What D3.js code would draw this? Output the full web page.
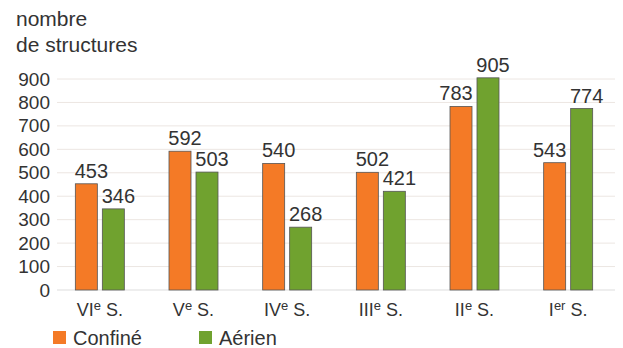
<!DOCTYPE html>
<html>
<head>
<meta charset="utf-8">
<script src="https://cdn.jsdelivr.net/npm/d3@7"></script>
<style>
  body { margin: 0; background: #fff; }
  text { font-family: 'Liberation Sans', Arial, sans-serif; fill: #333; }
</style>
</head>
<body>
<svg width="623" height="348"></svg>
<script>
const roman = ['VI', 'V', 'IV', 'III', 'II', 'I'];
const suffix = ['e', 'e', 'e', 'e', 'e', 'er'];
const confine = [453, 592, 540, 502, 783, 543];
const aerien = [346, 503, 268, 421, 905, 774];
const yTicks = [0, 100, 200, 300, 400, 500, 600, 700, 800, 900];
const seriesNames = ['Confiné', 'Aérien'];
const colors = ['#f47a26', '#70a22f'];

const svg = d3.select('svg');

const xScale = d3.scaleBand()
  .domain(d3.range(roman.length))
  .range([53, 615]);

const half = 24.5;
const inner = d3.scaleBand()
  .domain([0, 1])
  .range([xScale.bandwidth() / 2 - half, xScale.bandwidth() / 2 + half])
  .paddingInner(0.185)
  .paddingOuter(0);

const yScale = d3.scaleLinear()
  .domain([0, 900])
  .range([290, 79]);

// faint gridlines
svg.append('g')
  .selectAll('line')
  .data(yTicks.slice(1))
  .join('line')
  .attr('x1', 57)
  .attr('x2', 615)
  .attr('y1', d => yScale(d))
  .attr('y2', d => yScale(d))
  .attr('stroke', '#ece6e2')
  .attr('stroke-width', 1);

svg.append('line')
  .attr('x1', 57).attr('x2', 615)
  .attr('y1', yScale(0)).attr('y2', yScale(0))
  .attr('stroke', '#ddd');

const yAxis = d3.axisLeft(yScale)
  .tickValues(yTicks)
  .tickSize(0)
  .tickPadding(0);

svg.append('g')
  .attr('transform', 'translate(50, 0)')
  .call(yAxis)
  .call(g => g.select('.domain').remove())
  .selectAll('text')
  .style('font-size', '19px')
  .attr('fill', '#333');

// title
const title = svg.append('text')
  .style('font-size', '21px');
title.append('tspan').attr('x', 16).attr('y', 26).text('nombre');
title.append('tspan').attr('x', 16).attr('y', 52).text('de structures');

// bars
const series = [confine, aerien];
series.forEach((vals, s) => {
  svg.append('g')
    .selectAll('rect')
    .data(vals)
    .join('rect')
    .attr('x', (d, i) => xScale(i) + inner(s))
    .attr('y', d => yScale(d))
    .attr('width', inner.bandwidth())
    .attr('height', d => yScale(0) - yScale(d))
    .attr('fill', colors[s])
    .attr('stroke', '#555')
    .attr('stroke-width', 0.8);
});

// value labels, drawn after all bars; orange label moves left if green bar is taller
series.forEach((vals, s) => {
  svg.append('g')
    .selectAll('text')
    .data(vals)
    .join('text')
    .attr('x', (d, i) => {
      const shift = (s === 0 && aerien[i] > d) ? -5 : 5;
      return xScale(i) + inner(s) + inner.bandwidth() / 2 + shift;
    })
    .attr('y', d => yScale(d) - 6)
    .attr('text-anchor', 'middle')
    .style('font-size', '20px')
    .text(d => d);
});

// category labels
const cat = svg.append('g')
  .selectAll('text')
  .data(roman)
  .join('text')
  .attr('x', (d, i) => xScale(i) + xScale.bandwidth() / 2)
  .attr('y', 316)
  .attr('text-anchor', 'middle')
  .style('font-size', '18px');
cat.append('tspan').text(d => d);
cat.append('tspan')
  .attr('dy', -6)
  .style('font-size', '13px')
  .text((d, i) => suffix[i]);
cat.append('tspan')
  .attr('dy', 6)
  .text(' S.');

// legend
const legendX = [53, 199];
seriesNames.forEach((name, s) => {
  svg.append('rect')
    .attr('x', legendX[s])
    .attr('y', 331)
    .attr('width', 13)
    .attr('height', 13)
    .attr('fill', colors[s]);
  svg.append('text')
    .attr('x', legendX[s] + 20)
    .attr('y', 345)
    .style('font-size', '20px')
    .text(name);
});
</script>
</body>
</html>
